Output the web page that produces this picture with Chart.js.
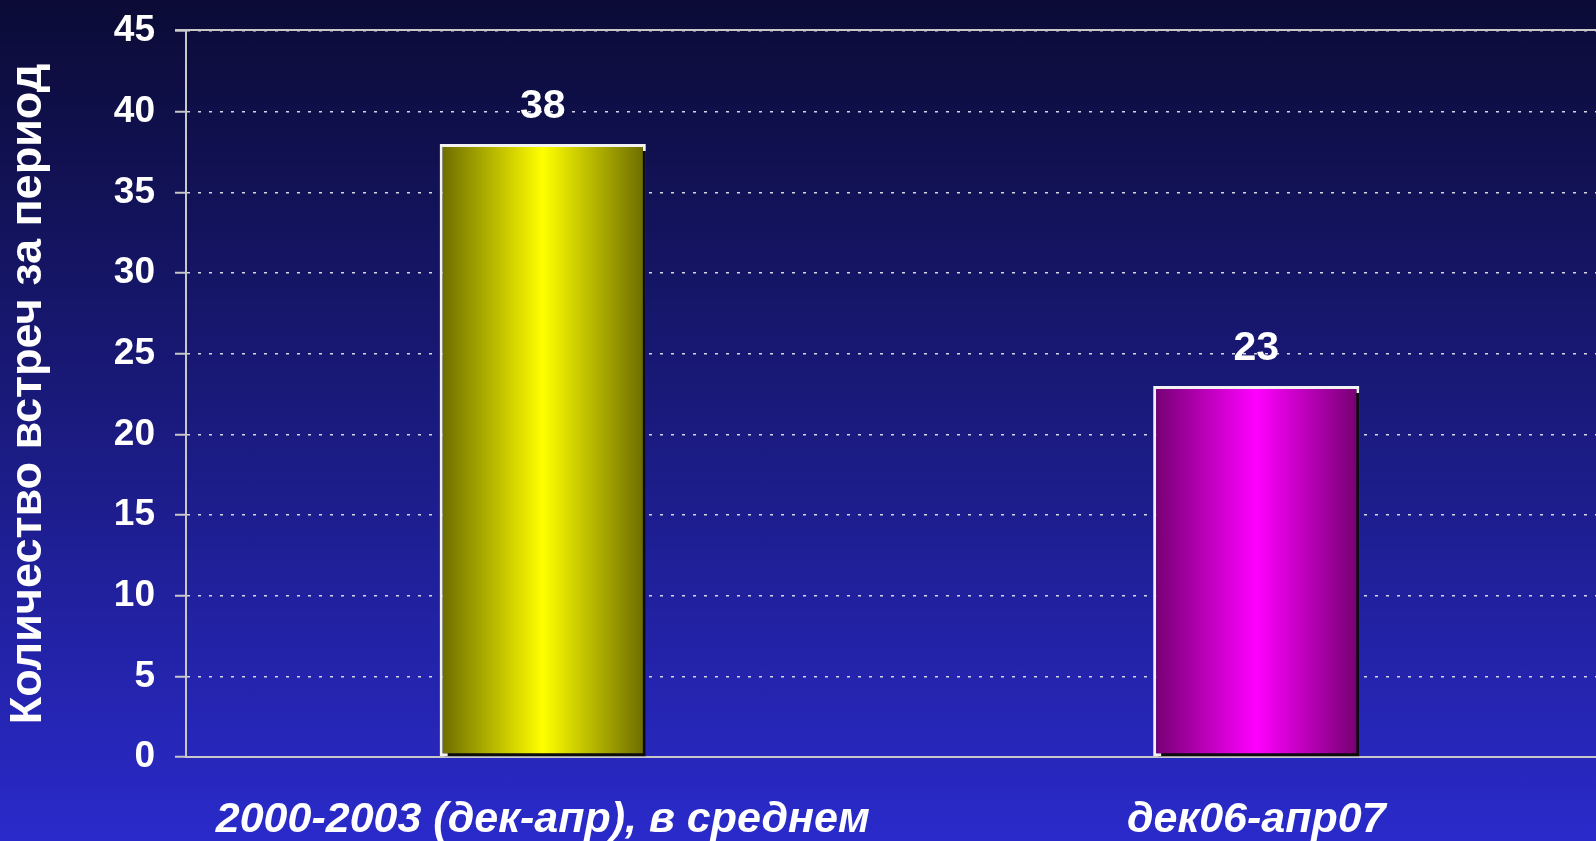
<!DOCTYPE html>
<html>
<head>
<meta charset="utf-8">
<script src="https://cdn.jsdelivr.net/npm/chart.js@4/dist/chart.umd.min.js"></script>
<style>
  html, body { margin: 0; padding: 0; width: 1596px; height: 841px; overflow: hidden;
    background: linear-gradient(to bottom, #0b0b36 0%, #1a1a7e 50%, #2a2acb 100%); }
  canvas { display: block; }
</style>
</head>
<body>
<canvas id="c" width="1613" height="841"></canvas>
<script>
const categories = ['2000-2003 (дек-апр), в среднем', 'дек06-апр07'];
const meetings = [38, 23];
const yTicks = [0, 5, 10, 15, 20, 25, 30, 35, 40, 45];
const yTitle = 'Количество встреч за период';
const barColors = [
  { edge: '#6a6a00', mid: '#ffff00' },
  { edge: '#740070', mid: '#ff00ff' }
];

const FONT = '"Liberation Sans", Arial, sans-serif';

const gradientBars = {
  id: 'gradientBars',
  beforeDatasetsDraw(chart) {
    const ctx = chart.ctx;
    const meta = chart.getDatasetMeta(0);
    meta.data.forEach((el, i) => {
      const p = el.getProps(['x', 'width'], true);
      const l = p.x - p.width / 2, r = p.x + p.width / 2;
      const g = ctx.createLinearGradient(l, 0, r, 0);
      const c = barColors[i % barColors.length];
      g.addColorStop(0, c.edge);
      g.addColorStop(0.5, c.mid);
      g.addColorStop(1, c.edge);
      el.options.backgroundColor = g;
    });
  },
  beforeDatasetDraw(chart) {
    const ctx = chart.ctx;
    ctx.save();
    ctx.shadowColor = 'rgba(0,0,0,0.95)';
    ctx.shadowOffsetX = 5;
    ctx.shadowOffsetY = 4;
    ctx.shadowBlur = 0;
  },
  afterDatasetDraw(chart) {
    chart.ctx.restore();
  },
  afterDatasetsDraw(chart) {
    const ctx = chart.ctx;
    const meta = chart.getDatasetMeta(0);
    ctx.save();
    ctx.fillStyle = '#ffffff';
    ctx.font = 'bold 41px ' + FONT;
    ctx.textAlign = 'center';
    ctx.textBaseline = 'middle';
    meta.data.forEach((el, i) => {
      ctx.fillText(String(meetings[i]), el.x, el.y - 37);
    });
    // top frame line
    const a = chart.chartArea;
    ctx.strokeStyle = '#c8c8c8';
    ctx.lineWidth = 2;
    ctx.beginPath();
    ctx.moveTo(a.left - 11, a.top - 1);
    ctx.lineTo(a.right, a.top - 1);
    ctx.stroke();
    ctx.restore();
  }
};

new Chart(document.getElementById('c'), {
  type: 'bar',
  data: {
    labels: categories,
    datasets: [{
      data: meetings,
      backgroundColor: (ctx) => barColors[ctx.dataIndex % barColors.length].mid,
      borderColor: '#f2f2f2',
      borderWidth: 3,
      borderSkipped: false,
      barPercentage: 0.289,
      categoryPercentage: 1.0
    }]
  },
  options: {
    responsive: false,
    devicePixelRatio: 1,
    animation: false,
    layout: { padding: { top: 31, left: 0, right: 0, bottom: 0 } },
    plugins: { legend: { display: false }, tooltip: { enabled: false } },
    scales: {
      x: {
        grid: { display: false, drawTicks: false },
        border: { display: true, color: '#c8c8c8', width: 2 },
        ticks: {
          color: '#ffffff',
          font: { family: FONT, size: 43, weight: 'bold', style: 'italic' },
          padding: 37,
          maxRotation: 0
        },
        afterFit(scale) { scale.height = 84; scale.paddingLeft = 0; scale.paddingRight = 0; }
      },
      y: {
        min: 0, max: 45,
        afterBuildTicks(scale) { scale.ticks = yTicks.map(v => ({ value: v })); },
        grid: {
          color: 'rgba(225,225,235,0.95)',
          lineWidth: 1.5,
          tickBorderDash: [],
          tickColor: '#c8c8c8',
          tickWidth: 2,
          tickLength: 11
        },
        border: { display: true, color: '#c8c8c8', width: 2, dash: [3, 8] },
        ticks: {
          color: '#ffffff',
          font: { family: FONT, size: 37, weight: 'bold' },
          padding: 20
        },
        title: {
          display: true,
          text: yTitle,
          color: '#ffffff',
          font: { family: FONT, size: 45, weight: 'bold' },
          padding: { top: 2, bottom: 0 }
        },
        afterFit(scale) { scale.width = 186; scale.paddingTop = 0; scale.paddingBottom = 0; }
      }
    }
  },
  plugins: [gradientBars]
});
</script>
</body>
</html>
